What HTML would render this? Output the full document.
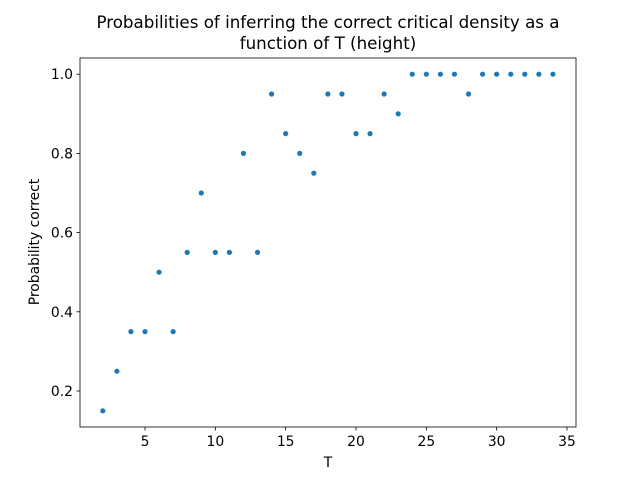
<!DOCTYPE html>
<html><head><meta charset="utf-8"><style>
body{margin:0;background:#fff;}
svg text{font-family:"DejaVu Sans","Liberation Sans",sans-serif;fill:#000;}
</style></head><body>
<svg id="chart" width="640" height="480">
<rect width="640" height="480" fill="#fff"/>
<text x="328" y="28" font-size="16.7" text-anchor="middle">Probabilities of inferring the correct critical density as a</text>
<text x="328" y="49" font-size="16.7" text-anchor="middle">function of T (height)</text>
<g id="xt"></g><g id="yt"></g><g id="pts"></g>
<rect x="80" y="58" width="496" height="369" fill="none" stroke="#000" stroke-width="0.8"/>
<text x="328" y="467" font-size="13.9" text-anchor="middle">T</text>
<text transform="translate(39,242) rotate(-90)" font-size="13.9" text-anchor="middle">Probability correct</text>
</svg>
<script>
const tValues=[2,3,4,5,6,7,8,9,10,11,12,13,14,15,16,17,18,19,20,21,22,23,24,25,26,27,28,29,30,31,32,33,34];
const probValues=[0.15,0.25,0.35,0.35,0.5,0.35,0.55,0.7,0.55,0.55,0.8,0.55,0.95,0.85,0.8,0.75,0.95,0.95,0.85,0.85,0.95,0.9,1,1,1,1,0.95,1,1,1,1,1,1];
const xTicks=[5,10,15,20,25,30,35];
const yTicks=[0.2,0.4,0.6,0.8,1.0];
const xs=v=>145+(v-5)*(422/30);
const ys=v=>391-(v-0.2)*396;
const NS="http://www.w3.org/2000/svg";
function mk(tag,attrs,parent){const e=document.createElementNS(NS,tag);for(const k in attrs)e.setAttribute(k,attrs[k]);parent.appendChild(e);return e;}
const xt=document.getElementById('xt'),yt=document.getElementById('yt'),pts=document.getElementById('pts');
xTicks.forEach(t=>{const x=xs(t);
 const l=mk('line',{x1:x,x2:x,y1:427,y2:430.5,stroke:'#000','stroke-width':0.8},xt);
 
 
 const tx=mk('text',{x:x,y:446,'font-size':13.9,'text-anchor':'middle'},xt);tx.textContent=t;
 
 });
yTicks.forEach(t=>{const y=ys(t);
 const l=mk('line',{x1:76.5,x2:80,y1:y,y2:y,stroke:'#000','stroke-width':0.8},yt);
 
 
 const tx=mk('text',{x:73,y:y+5,'font-size':13.9,'text-anchor':'end'},yt);tx.textContent=t.toFixed(1);
 
 });
tValues.forEach((t,i)=>{const c=mk('circle',{cx:xs(t),cy:ys(probValues[i]),r:2.6,fill:'#1f77b4'},pts);
 
 });
</script>
</body></html>
